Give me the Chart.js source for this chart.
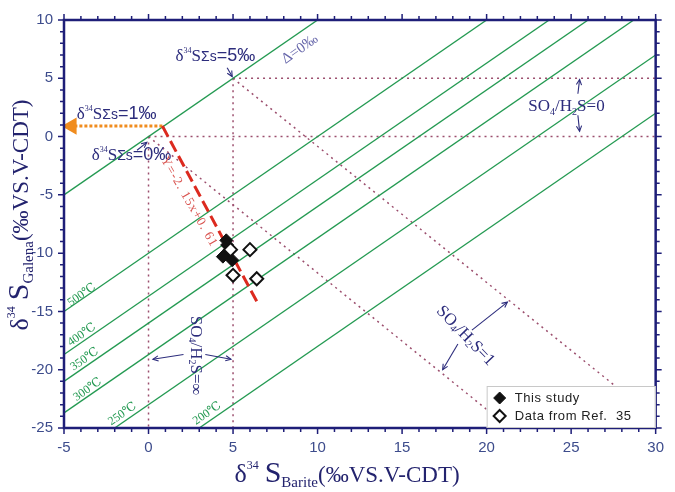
<!DOCTYPE html>
<html>
<head>
<meta charset="utf-8">
<script src="https://cdn.jsdelivr.net/npm/chart.js@4.4.1/dist/chart.umd.min.js"></script>
<style>
  html, body { margin: 0; padding: 0; background: #fff; }
  #wrap { width: 675px; height: 492px; }
</style>
</head>
<body>
<div id="wrap"><canvas id="chart"></canvas></div>
<script>
// axis ranges and tick labels
const xTickValues = [-5, 0, 5, 10, 15, 20, 25, 30];
const yTickValues = [-25, -20, -15, -10, -5, 0, 5, 10];

// equilibrium lines: delta = d34S(barite) - d34S(galena)
const deltaValues = [0, 10, 13.7, 16, 18.7, 23, 28];
const tempLabels = ['', '500℃', '400℃', '350℃', '300℃', '250℃', '200℃'];

// samples
const thisStudyX = [4.6, 4.65, 4.7, 4.4, 4.95];
const thisStudyY = [-8.9, -9.3, -9.9, -10.3, -10.6];
const refX = [4.85, 6.0, 5.0, 6.4];
const refY = [-9.7, -9.7, -11.9, -12.2];

// regression line Y=-2.15x+0.61 (as drawn)
const fitX = [0.82, 6.5];
const fitY = [0.9, -14.4];

// orange arrow to the axis (d34S total = 1 permil)
const totalX = [0.82, -4.55];
const totalY = [0.9, 0.9];

// guide lines (dotted)
const guideLines = [
  [[0, 0], [0, -25]],
  [[5, 5], [5, -25]],
  [[0, 0], [30, 0]],
  [[5, 5], [30, 5]],
  [[0, 0], [20, -23.4]],
  [[5, 5], [27.7, -21.5]]
];

const NAVY = '#1e1e78';
const TXT = '#2c2c7c';
const GREEN = '#249a52';
const DOT = '#9c4f6e';
const SERIF = "'Liberation Serif','DejaVu Serif',serif";
const SANS = "'Liberation Sans','DejaVu Sans',sans-serif";

const toPts = (xs, ys) => xs.map((x, i) => ({ x: x, y: ys[i] }));

const datasets = [
  {
    label: 'Data from Ref. 35',
    data: toPts(refX, refY),
    pointStyle: 'rectRot',
    pointRadius: 6.5,
    backgroundColor: '#fff',
    borderColor: '#111',
    borderWidth: 2,
    showLine: false
  },
  {
    label: 'This study',
    data: toPts(thisStudyX, thisStudyY),
    pointStyle: 'rectRot',
    pointRadius: 6.5,
    backgroundColor: '#111',
    borderColor: '#111',
    borderWidth: 1,
    showLine: false
  },
  {
    data: toPts(fitX, fitY),
    showLine: true,
    pointRadius: 0,
    borderColor: '#dc2a1f',
    borderWidth: 3,
    borderDash: [12, 5]
  },
  {
    data: toPts(totalX, totalY),
    showLine: true,
    pointRadius: [0, 7],
    pointStyle: 'triangle',
    rotation: -90,
    backgroundColor: '#f08c1e',
    borderColor: '#f08c1e',
    borderWidth: 3,
    borderDash: [3, 2]
  }
];

deltaValues.forEach(d => {
  datasets.push({
    data: [{ x: -5, y: -5 - d }, { x: 30, y: 30 - d }],
    showLine: true,
    pointRadius: 0,
    borderColor: GREEN,
    borderWidth: 1.3
  });
});

guideLines.forEach(seg => {
  datasets.push({
    data: seg.map(p => ({ x: p[0], y: p[1] })),
    showLine: true,
    pointRadius: 0,
    borderColor: DOT,
    borderWidth: 1.5,
    borderDash: [2, 4]
  });
});

function rich(ctx, x, y, rot, parts, align, baseline, color) {
  ctx.save();
  ctx.translate(x, y);
  ctx.rotate(rot * Math.PI / 180);
  ctx.textBaseline = baseline || 'alphabetic';
  ctx.textAlign = 'left';
  let w = 0;
  parts.forEach(p => { ctx.font = p.f; w += ctx.measureText(p.t).width + (p.gap || 0); });
  let cx = align === 'center' ? -w / 2 : 0;
  parts.forEach(p => {
    ctx.font = p.f;
    ctx.fillStyle = p.c || color;
    ctx.fillText(p.t, cx, p.dy || 0);
    cx += ctx.measureText(p.t).width + (p.gap || 0);
  });
  ctx.restore();
}

function arrow(ctx, a, b, color) {
  ctx.save();
  ctx.strokeStyle = color;
  ctx.lineWidth = 1.1;
  ctx.beginPath();
  ctx.moveTo(a[0], a[1]);
  ctx.lineTo(b[0], b[1]);
  ctx.stroke();
  const ang = Math.atan2(b[1] - a[1], b[0] - a[0]), h = 6;
  ctx.beginPath();
  ctx.moveTo(b[0] - h * Math.cos(ang - 0.45), b[1] - h * Math.sin(ang - 0.45));
  ctx.lineTo(b[0], b[1]);
  ctx.lineTo(b[0] - h * Math.cos(ang + 0.45), b[1] - h * Math.sin(ang + 0.45));
  ctx.stroke();
  ctx.restore();
}

function sumParts(val) {
  return [
    { t: 'δ', f: '17px ' + SERIF },
    { t: '34', f: '8px ' + SERIF, dy: -8 },
    { t: 'S', f: '17px ' + SERIF },
    { t: 'Σs', f: '14px ' + SANS },
    { t: '=' + val + '‰', f: '18px ' + SANS }
  ];
}

function soParts(val, size) {
  return [
    { t: 'SO', f: size + 'px ' + SERIF },
    { t: '4', f: '10px ' + SERIF, dy: 4 },
    { t: '/H', f: size + 'px ' + SERIF },
    { t: '2', f: '10px ' + SERIF, dy: 4 },
    { t: 'S=' + val, f: size + 'px ' + SERIF }
  ];
}

function titleParts(sub) {
  return [
    { t: 'δ', f: '26px ' + SERIF },
    { t: '34', f: '12px ' + SERIF, dy: -13, gap: 6 },
    { t: 'S', f: '30px ' + SERIF },
    { t: sub, f: '15px ' + SERIF, dy: 5 },
    { t: '(‰VS.V-CDT)', f: '23px ' + SERIF }
  ];
}

const decorPlugin = {
  id: 'decor',
  afterDatasetsDraw(chart) {
    const ctx = chart.ctx;
    const { left, right, top, bottom } = chart.chartArea;
    const xs = chart.scales.x, ys = chart.scales.y;
    const P = (x, y) => [xs.getPixelForValue(x), ys.getPixelForValue(y)];

    // frame and ticks
    ctx.save();
    ctx.strokeStyle = NAVY;
    ctx.lineWidth = 1.5;
    ctx.beginPath();
    for (let v = xs.min; v <= xs.max; v++) {
      const px = xs.getPixelForValue(v), len = v % 5 === 0 ? 6 : 4;
      ctx.moveTo(px, bottom); ctx.lineTo(px, bottom + len);
      ctx.moveTo(px, top); ctx.lineTo(px, top - len);
    }
    for (let v = ys.min; v <= ys.max; v++) {
      const py = ys.getPixelForValue(v), len = v % 5 === 0 ? 6 : 4;
      ctx.moveTo(left, py); ctx.lineTo(left - len, py);
      ctx.moveTo(right, py); ctx.lineTo(right + len, py);
    }
    ctx.stroke();
    ctx.lineWidth = 2.5;
    ctx.strokeRect(left, top, right - left, bottom - top);
    ctx.restore();

    // annotations
    let p = P(1.6, 6.5);
    rich(ctx, p[0], p[1], 0, sumParts(5), 'left', 'alphabetic', TXT);
    arrow(ctx, P(4.65, 5.9), P(4.95, 5.15), TXT);
    p = P(-4.24, 1.5);
    rich(ctx, p[0], p[1], 0, sumParts(1), 'left', 'alphabetic', TXT);
    p = P(-3.36, -2.0);
    rich(ctx, p[0], p[1], 0, sumParts(0), 'left', 'alphabetic', TXT);
    arrow(ctx, P(-0.68, -1.17), P(-0.1, -0.5), TXT);

    p = P(8.96, 7.5);
    rich(ctx, p[0], p[1], -35, [{ t: 'Δ=0‰', f: '15px ' + SERIF }], 'center', 'middle', '#6666aa');

    p = P(2.4, -5.6);
    ctx.save();
    ctx.letterSpacing = '1px';
    rich(ctx, p[0], p[1], 60, [{ t: 'Y=-2. 15x+0. 61', f: '13px ' + SERIF }], 'center', 'middle', '#d9534f');
    ctx.restore();

    p = P(22.47, 2.17);
    rich(ctx, p[0], p[1], 0, soParts('0', 17), 'left', 'alphabetic', TXT);
    arrow(ctx, P(25.4, 3.67), P(25.5, 4.9), TXT);
    arrow(ctx, P(25.4, 1.83), P(25.5, 0.45), TXT);

    p = P(18.75, -17.1);
    rich(ctx, p[0], p[1], 46, soParts('1', 17), 'center', 'middle', TXT);
    arrow(ctx, P(19.13, -16.6), P(21.23, -14.2), TXT);
    arrow(ctx, P(18.3, -17.8), P(17.4, -20), TXT);

    p = P(2.78, -18.8);
    rich(ctx, p[0], p[1], 90, soParts('∞', 17), 'center', 'middle', TXT);
    arrow(ctx, P(2.07, -18.7), P(0.26, -19.1), TXT);
    arrow(ctx, P(3.36, -18.7), P(4.88, -19.1), TXT);

    const tempPos = [null, [-3.95, -13.58], [-3.95, -17.0], [-3.78, -19.1], [-3.6, -21.7], [-1.55, -23.8], [3.47, -23.75]];
    tempLabels.forEach((t, i) => {
      if (!t) return;
      const q = P(tempPos[i][0], tempPos[i][1]);
      rich(ctx, q[0], q[1], -35, [{ t: t, f: '12px ' + SERIF }], 'center', 'middle', GREEN);
    });

    // legend
    const lw = 169, lh = 42, lx = right - lw, ly = bottom - lh;
    ctx.save();
    ctx.fillStyle = '#fff';
    ctx.fillRect(lx, ly, lw, lh);
    ctx.strokeStyle = '#c8c8c8';
    ctx.lineWidth = 1;
    ctx.strokeRect(lx + 0.5, ly + 0.5, lw - 1, lh - 1);
    const items = [datasets[1], datasets[0]];
    items.forEach((ds, i) => {
      const cy = ly + 12 + i * 18;
      ctx.fillStyle = ds.backgroundColor;
      ctx.strokeStyle = ds.borderColor;
      ctx.lineWidth = ds.borderWidth;
      ctx.beginPath();
      ctx.moveTo(lx + 13, cy - 6); ctx.lineTo(lx + 19, cy); ctx.lineTo(lx + 13, cy + 6); ctx.lineTo(lx + 7, cy);
      ctx.closePath();
      ctx.fill(); ctx.stroke();
      ctx.fillStyle = '#222';
      ctx.font = '13px ' + SANS;
      ctx.letterSpacing = '0.6px';
      ctx.textBaseline = 'middle';
      ctx.fillText(ds.label === 'This study' ? 'This study' : 'Data from Ref.  35', lx + 28, cy);
    });
    ctx.restore();

    // axis titles
    rich(ctx, 347, 482, 0, titleParts('Barite'), 'center', 'alphabetic', '#23236e');
    rich(ctx, 28, 215, -90, titleParts('Galena'), 'center', 'alphabetic', '#23236e');
  }
};

new Chart(document.getElementById('chart'), {
  type: 'scatter',
  data: { datasets: datasets },
  options: {
    responsive: true,
    maintainAspectRatio: false,
    animation: false,
    layout: { padding: { top: 8, right: 12, left: 0, bottom: 0 } },
    plugins: { legend: { display: false }, tooltip: { enabled: false } },
    scales: {
      x: {
        type: 'linear',
        min: -5,
        max: 30,
        afterBuildTicks: s => { s.ticks = xTickValues.map(v => ({ value: v })); },
        afterFit: s => { s.height = 64; },
        grid: { display: false, drawTicks: false },
        border: { display: false },
        ticks: { padding: 11, color: '#3d4c8c', font: { family: 'Liberation Sans', size: 15 } }
      },
      y: {
        type: 'linear',
        min: -25,
        max: 10,
        afterBuildTicks: s => { s.ticks = yTickValues.map(v => ({ value: v })); },
        afterFit: s => { s.width = 64; },
        grid: { display: false, drawTicks: false },
        border: { display: false },
        ticks: { padding: 11, color: '#3d4c8c', font: { family: 'Liberation Sans', size: 15 } }
      }
    }
  },
  plugins: [decorPlugin]
});
</script>
</body>
</html>
